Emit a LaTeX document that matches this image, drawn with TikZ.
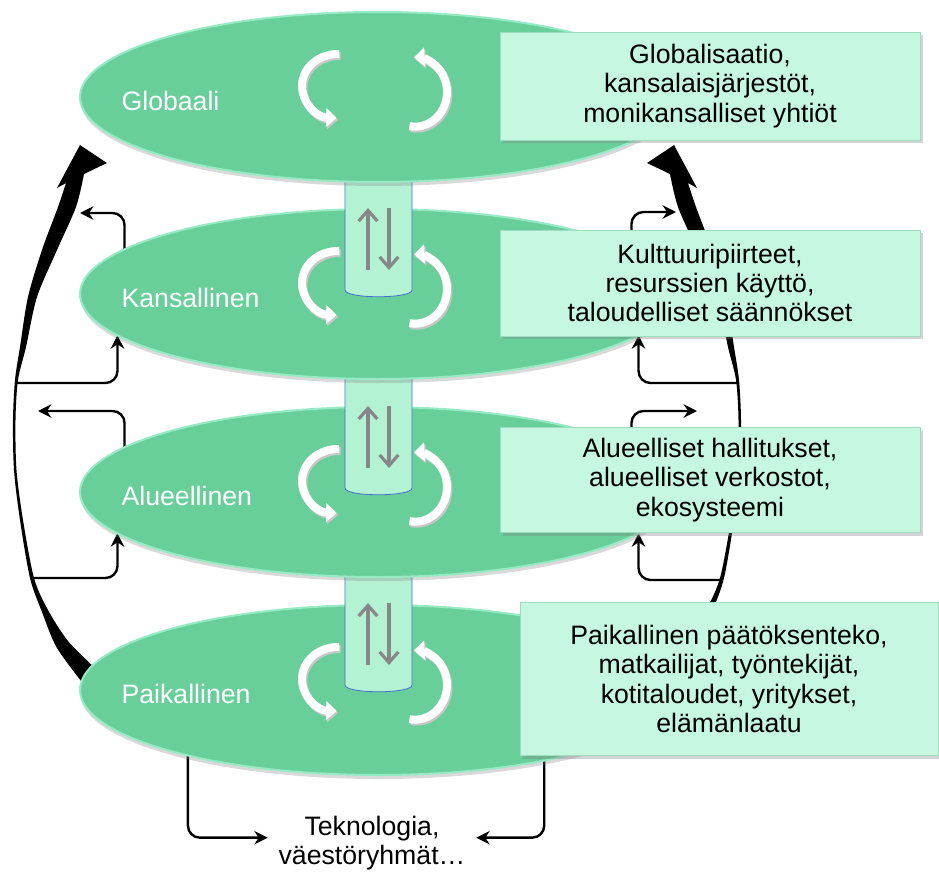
\documentclass[tikz,border=0pt]{standalone}
\usepackage{fontspec}
\setmainfont{Liberation Sans}
\usepackage{xcolor}
\usetikzlibrary{arrows.meta,shapes,positioning,shadows,backgrounds}

\definecolor{lvlgreen}{RGB}{104,207,155}
\definecolor{lvlrim}{RGB}{150,235,196}
\definecolor{boxmint}{RGB}{198,247,224}
\definecolor{boxedge}{RGB}{160,220,192}
\definecolor{tubemint}{RGB}{180,242,212}
\definecolor{tubeedge}{RGB}{70,110,205}
\definecolor{flowgrey}{RGB}{135,135,135}

\begin{document}
\begin{tikzpicture}[x=0.75pt,y=-0.75pt,
    level/.style={ellipse, fill=lvlgreen, draw=lvlrim, line width=1.5pt,
      minimum width=447pt, minimum height=127.5pt, inner sep=0pt, outer sep=0pt,
      drop shadow={opacity=0.3, shadow xshift=0.5pt, shadow yshift=-3pt}},
    lvlname/.style={text=white, font=\fontsize{20}{22}\selectfont, inner sep=0pt, yshift=-3pt},
    infobox/.style={fill=boxmint, draw=boxedge, line width=0.6pt, align=center,
      font=\fontsize{20}{22}\selectfont,
      drop shadow={opacity=0.35, shadow xshift=2.5pt, shadow yshift=-2.5pt}},
    link/.style={-{Stealth[length=10pt,width=10pt]}, line width=1.8pt, rounded corners=9pt},
    twirl/.style={line width=6pt, -{Triangle[length=8pt,width=14pt]}},
    updown/.style={flowgrey, line width=2.4pt, -{Straight Barb[length=8pt,width=14pt]}},
    tube/.style={fill=tubemint, draw=tubeedge, line width=0.6pt}]
  \useasboundingbox (0,0) rectangle (939,878);

  % levels, from the bottom up (each tube sits behind the level above it)
  \node[level] (paik) at (378,690) {};
  \filldraw[tube] (345,570) -- (345,685) .. controls (345,694) and (412,694) .. (412,685) -- (412,570) -- cycle;
  \node[level] (alue) at (378,492) {};
  \filldraw[tube] (345,372) -- (345,488) .. controls (345,497) and (412,497) .. (412,488) -- (412,372) -- cycle;
  \node[level] (kans) at (378,294) {};
  \filldraw[tube] (345,175) -- (345,290) .. controls (345,299) and (412,299) .. (412,290) -- (412,175) -- cycle;
  \node[level] (glob) at (378,97) {};

  % up and down flows in the tubes
  \foreach \b in {290,488,685} {
    \draw[updown] (368,\b-20) -- (368,\b-82);
    \draw[updown] (389,\b-82) -- (389,\b-20);
  }

  % turning arrows on every level
  \foreach \cy in {97,294,492,690} {
    \draw[twirl, black!22, xshift=1pt, yshift=-1.5pt] (338,\cy-11) ++(88:27pt and 24pt)
      arc[start angle=88, end angle=268, x radius=27pt, y radius=24pt];
    \draw[twirl, white] (338,\cy-11) ++(88:27pt and 24pt)
      arc[start angle=88, end angle=268, x radius=27pt, y radius=24pt];
    \draw[twirl, black!22, xshift=1pt, yshift=-1.5pt] (415,\cy-5) ++(-100:24pt and 26pt)
      arc[start angle=-100, end angle=92, x radius=24pt, y radius=26pt];
    \draw[twirl, white] (415,\cy-5) ++(-100:24pt and 26pt)
      arc[start angle=-100, end angle=92, x radius=24pt, y radius=26pt];
  }

  % level names
  \node[lvlname, right=31pt of glob.west] (globname) {Globaali};
  \node[lvlname, right=31pt of kans.west] (kansname) {Kansallinen};
  \node[lvlname, right=31pt of alue.west] (aluename) {Alueellinen};
  \node[lvlname, right=31pt of paik.west] (paikname) {Paikallinen};

  % actors of each level
  \node[infobox, minimum width=315pt, minimum height=81pt] (globbox) at (710,86)
    {Globalisaatio,\\kansalaisjärjestöt,\\monikansalliset yhtiöt};
  \node[infobox, minimum width=315pt, minimum height=79.5pt] (kansbox) at (710,283)
    {Kulttuuripiirteet,\\resurssien käyttö,\\taloudelliset säännökset};
  \node[infobox, minimum width=315pt, minimum height=79pt] (aluebox) at (710,480)
    {Alueelliset hallitukset,\\alueelliset verkostot,\\ekosysteemi};
  \node[infobox, minimum width=313.5pt, minimum height=115pt] (paikbox) at (729,679)
    {Paikallinen päätöksenteko,\\matkailijat, työntekijät,\\kotitaloudet, yritykset,\\elämänlaatu};

  \node[font=\fontsize{20}{22}\selectfont, align=center, inner sep=8pt] (tekno) at (372,843)
    {Teknologia,\\väestöryhmät…};

  \begin{pgfonlayer}{background}
    % big arrows from the local level up to the global one
    \foreach \flip/\dx in {1/0,-1/754} {
      \begin{scope}[shift={(\dx,0)}, xscale=\flip]
        \fill plot[smooth] coordinates {(85,686) (57,648) (42,612) (30,578) (20,520) (14,470)
            (13,420) (15,380) (20,347) (28,297) (42,250) (58,207) (66,183)}
          -- (57,188) -- (80,145) -- (107,163) -- (84,174)
          -- plot[smooth] coordinates {(84,174) (76,207) (57,250) (37,297) (26,347) (18,380)
            (15.5,420) (16.5,470) (23,520) (34,578) (48,610) (68,641) (95,668)} -- cycle;
      \end{scope}
    }

    % side branches
    \coordinate (lj1) at (15,383);
    \coordinate (lj2) at (33,578);
    \coordinate (lt1) at (80,213);
    \coordinate (lt2) at (38,411);
    \coordinate (rj1) at (739,383);
    \coordinate (rj2) at (721,580);
    \coordinate (rt1) at (676,212);
    \coordinate (rt2) at (697,411);
    \draw[link] (lj1) -| (kans.189);
    \draw[link] (kans.170) |- (lt1);
    \draw[link] (alue.170) |- (lt2);
    \draw[link] (lj2) -| (alue.189);
    \draw[link] (rj1) -| (kans.351);
    \draw[link] (kans.10) |- (rt1);
    \draw[link] (alue.10) |- (rt2);
    \draw[link] (rj2) -| (alue.351);

    % down to technology and population groups
    \draw[link] (paik.199) |- ([yshift=4pt]tekno.west);
    \draw[link] (paik.337) |- ([yshift=4pt]tekno.east);
  \end{pgfonlayer}
\end{tikzpicture}
\end{document}
